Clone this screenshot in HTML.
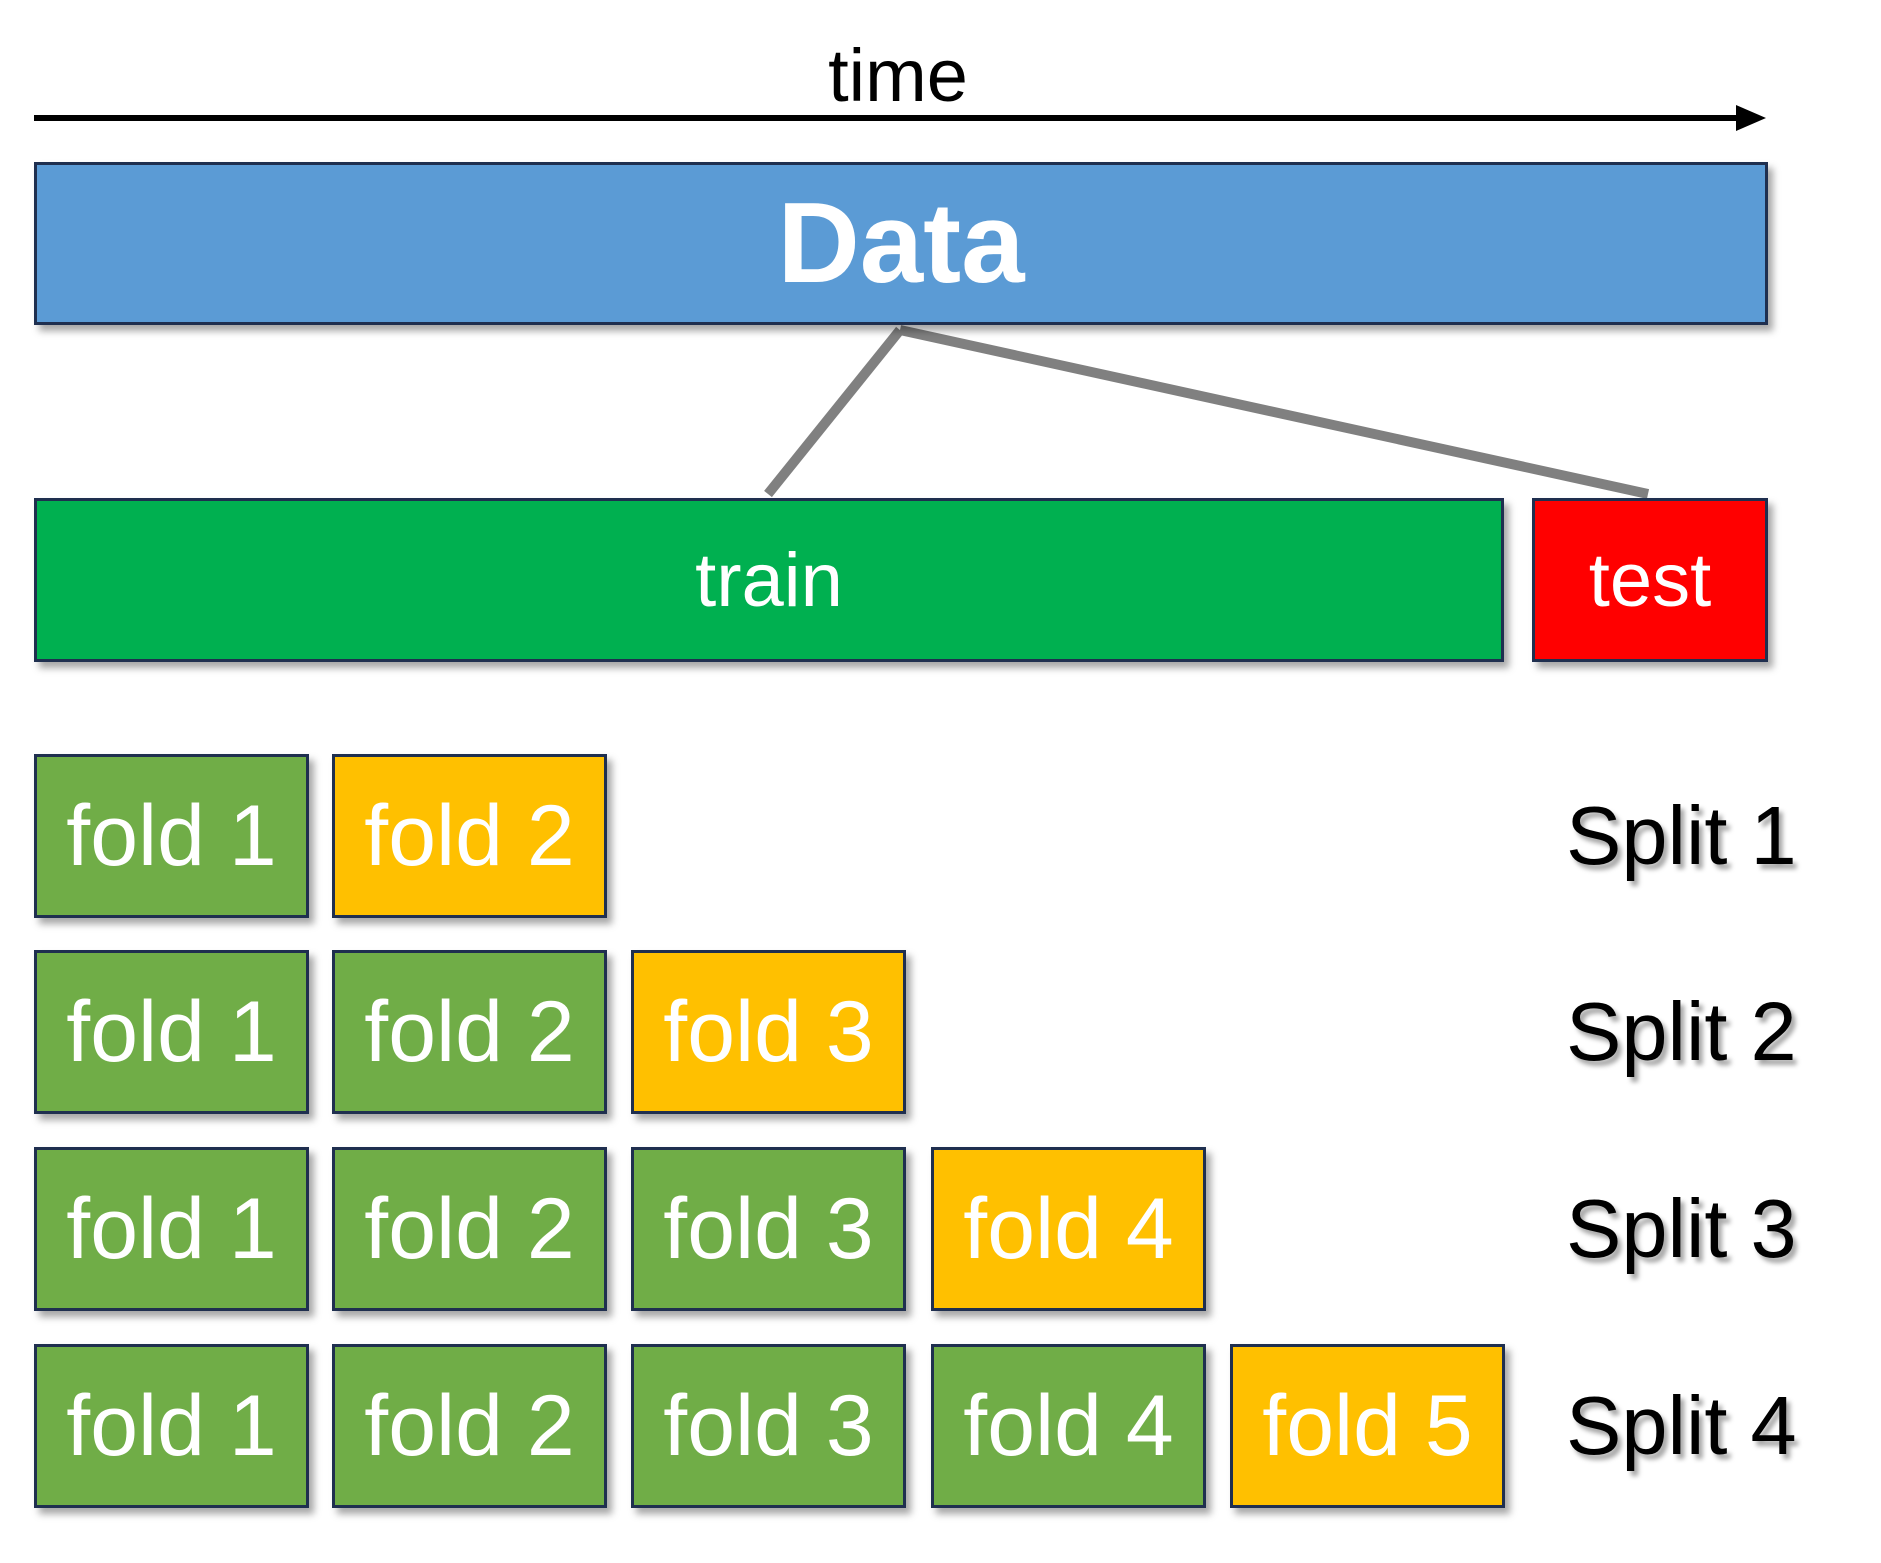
<!DOCTYPE html>
<html><head><style>
body{margin:0;width:1881px;height:1563px;background:#fff;position:relative;overflow:hidden;font-family:"Liberation Sans",sans-serif}
.b{position:absolute;box-sizing:border-box;border:3px solid #1F2F4F;color:#fff;display:flex;align-items:center;justify-content:center;box-shadow:5px 6px 7px rgba(0,0,0,0.35)}
.f{width:275px;height:164px;font-size:86px}
.g{background:#70AD47}.y{background:#FFC000}
.s{position:absolute;left:1566px;font-size:83px;color:#000;text-shadow:4px 5px 5px rgba(0,0,0,0.35);line-height:164px}
</style></head><body>
<div style="position:absolute;left:0;width:1796px;top:34px;text-align:center;font-size:74px;line-height:84px">time</div>
<svg style="position:absolute;left:0;top:0" width="1881" height="1563">
<line x1="34" y1="118" x2="1740" y2="118" stroke="#000" stroke-width="6"/>
<polygon points="1736,105 1766,118 1736,131" fill="#000"/>
<line x1="900" y1="330" x2="768" y2="494" stroke="#808080" stroke-width="10"/>
<line x1="900" y1="330" x2="1648" y2="494" stroke="#808080" stroke-width="10"/>
</svg>
<div class="b" style="left:34px;top:162px;width:1734px;height:163px;background:#5B9BD5;font-size:114px;font-weight:bold">Data</div>
<div class="b" style="left:34px;top:498px;width:1470px;height:164px;background:#00B050;font-size:76px">train</div>
<div class="b" style="left:1532px;top:498px;width:236px;height:164px;background:#FF0000;font-size:76px">test</div>

<div class="b f g" style="left:34px;top:754px">fold 1</div>
<div class="b f y" style="left:332px;top:754px">fold 2</div>

<div class="b f g" style="left:34px;top:950px">fold 1</div>
<div class="b f g" style="left:332px;top:950px">fold 2</div>
<div class="b f y" style="left:631px;top:950px">fold 3</div>

<div class="b f g" style="left:34px;top:1147px">fold 1</div>
<div class="b f g" style="left:332px;top:1147px">fold 2</div>
<div class="b f g" style="left:631px;top:1147px">fold 3</div>
<div class="b f y" style="left:931px;top:1147px">fold 4</div>

<div class="b f g" style="left:34px;top:1344px">fold 1</div>
<div class="b f g" style="left:332px;top:1344px">fold 2</div>
<div class="b f g" style="left:631px;top:1344px">fold 3</div>
<div class="b f g" style="left:931px;top:1344px">fold 4</div>
<div class="b f y" style="left:1230px;top:1344px">fold 5</div>

<div class="s" style="top:754px">Split 1</div>
<div class="s" style="top:950px">Split 2</div>
<div class="s" style="top:1147px">Split 3</div>
<div class="s" style="top:1344px">Split 4</div>
</body></html>
